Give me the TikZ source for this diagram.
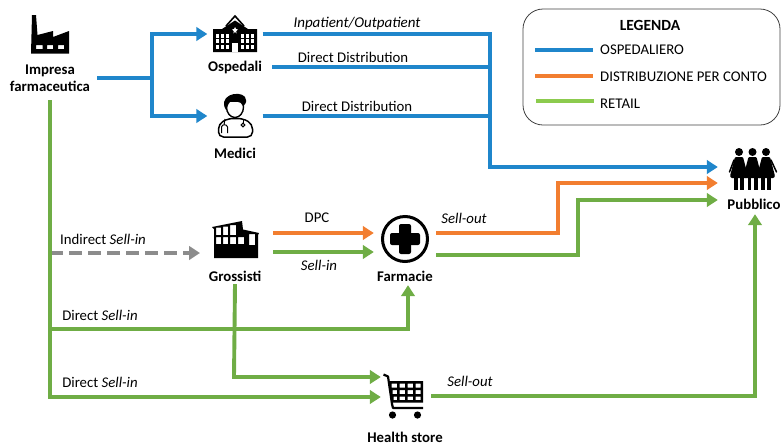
\documentclass[tikz,border=0pt]{standalone}
\usepackage{fontspec}
\setmainfont{Carlito}
\usetikzlibrary{arrows.meta}
\definecolor{cblue}{HTML}{1F86CB}
\definecolor{corange}{HTML}{F27E30}
\definecolor{cgreen}{HTML}{6FAD45}
\definecolor{cgray}{HTML}{8C8C8C}
\definecolor{lgreen}{HTML}{8CCB4E}
\tikzset{
 box/.style={inner sep=0pt,minimum width=#1},
 lab/.style={font=\fontsize{14.8}{17}\selectfont\bfseries,inner sep=0pt,align=center},
 txt/.style={font=\fontsize{14.8}{17}\selectfont,inner sep=0pt},
 flow/.style={line width=3.9pt,line join=miter},
 tip/.style={-{Triangle[length=11pt,width=13.5pt]}},
 blue/.style={flow,cblue},
 orange/.style={flow,corange},
 green/.style={flow,cgreen},
 leg/.style={line width=3.9pt},
}
\begin{document}
\begin{tikzpicture}[x=1pt,y=-1pt]
\useasboundingbox (0,0) rectangle (782,445);
% anchor nodes of the actors
\node[box=94,minimum height=44,lab] (impresa) at (50,78) {Impresa\\farmaceutica};
\node[box=55,minimum height=38] (ospedali) at (235,34) {};
\node[box=74,lab] (ospedaliL) at (235,67) {Ospedali};
\node[box=55,minimum height=44] (medici) at (235,116) {};
\node[lab] (mediciL) at (235,153) {Medici};
\node[box=76,minimum height=38] (grossisti) at (235,243) {};
\node[box=60,minimum height=16,lab] (grossistiL) at (235,276) {Grossisti};
\node[box=62,minimum height=50] (farmacie) at (405,243) {};
\node[box=60,minimum height=18,lab] (farmacieL) at (405,276) {Farmacie};
\node[box=50,minimum height=44] (cart) at (406,397) {};
\node[lab] (cartL) at (405,437) {Health store};
\node[box=60,minimum height=66] (pubblico) at (748,167) {};
\node[box=60,minimum height=20,lab] (pubblicoL) at (754,204) {Pubblico};
% junctions
\coordinate (jb) at (152,78);
\coordinate (jh) at (490,34);
\coordinate (jp) at (490,167);
\coordinate (jo1) at (558,233);
\coordinate (jo2) at (558,183);
\coordinate (jg1) at (578,255);
\coordinate (jg2) at (578,200);
\coordinate (jv) at (50,253);
\coordinate (jw) at (50,329);
\coordinate (jx) at (50,397);
\coordinate (jc) at (234,377);
\coordinate (jf) at (408,329);
\coordinate (je) at (755,396);
\node[box=1,minimum height=1] (gray) at (200,253) {};
% gray
\draw[line width=3.9pt,cgray,dash pattern=on 13pt off 6pt,-{Triangle[length=11pt,width=13.5pt]}] (jv) -- (gray.center);
% blue
\draw[blue] (impresa.east) -- (jb);
\draw[blue,tip] (jb) -- (jb |- ospedali.west) -- (ospedali.west);
\draw[blue,tip] (jb) -- (jb |- medici.west) -- (medici.west);
\draw[blue] (ospedaliL.east) -- (ospedaliL.east -| jh);
\draw[blue] (medici.east) -- (medici.east -| jh);
\draw[blue,tip] (ospedali.east) -- (jh) -- (jp) -- (jp -| pubblico.west);
% orange
\draw[orange,tip] ([yshift=10]grossisti.east) -- ([yshift=10]farmacie.west);
\draw[orange,tip] ([yshift=10]farmacie.east) -- (jo1) -- (jo2) -- (jo2 -| pubblico.west);
% green
\draw[green,tip] ([yshift=-9]grossisti.east) -- ([yshift=-9]farmacie.west);
\draw[green,tip] ([yshift=-12]farmacie.east) -- (jg1) -- (jg2) -- (jg2 -| pubblico.west);
\draw[green,tip] (impresa.south) -- (jx) -- (jx -| cart.west);
\draw[green,tip] (jw) -- (jf) -- (jf |- farmacieL.south);
\draw[green,tip] (grossistiL.south) -- (jc) -- (jc -| cart.west);
\draw[green,tip] (cart.east |- je) -- (je) -- (pubblicoL.south -| je);
% labels
\node[txt,font=\fontsize{15}{17}\selectfont\itshape] at (357,24) {Inpatient/Outpatient};
\node[txt] at (353,57) {Direct Distribution};
\node[txt] at (357,106) {Direct Distribution};
\node[txt] at (103,239) {Indirect \textit{Sell-in}};
\node[txt] at (317,218) {DPC};
\node[txt] at (319,265) {\textit{Sell-in}};
\node[txt] at (464,218) {\textit{Sell-out}};
\node[txt] at (100,315) {Direct \textit{Sell-in}};
\node[txt] at (100,382) {Direct \textit{Sell-in}};
\node[txt] at (470,381) {\textit{Sell-out}};
% legend
\node[draw=black!75,line width=0.8pt,rounded corners=20pt,minimum width=257,minimum height=116,inner sep=0pt] (legend) at (651.5,67) {};
\node[lab,font=\fontsize{15.5}{17}\selectfont\bfseries] (legT) at (650,25) {LEGENDA};
\node[txt,anchor=west] (l1) at (600,50) {OSPEDALIERO};
\node[txt,anchor=west] (l2) at (600,76.5) {DISTRIBUZIONE PER CONTO};
\node[txt,anchor=west] (l3) at (600,103.5) {RETAIL};
\draw[leg,cblue] (535,50) -- (593,50);
\draw[leg,corange] (535,76) -- (593,76);
\draw[leg,lgreen] (536,101) -- (594,101);
% factory icon
\fill[black,even odd rule] (32,15) -- (36,15) -- (37.5,35) -- (53,31) -- (53,37) -- (69,31) -- (69,53.5) -- (31,53.5) -- cycle
 (36,45) rectangle (42.5,49) (47,45) rectangle (53,49) (58,45) rectangle (64,49);
% hospital icon
\draw[line width=1.6pt] (226,26) -- (235,16) -- (244,26);
\fill (235,20.5) -- (248,29) -- (257,29) -- (257,52) -- (213,52) -- (213,29) -- (222,29) -- cycle;
\foreach \cx in {215.5,220.5,225.5,240.5,245.5,250.5}
 \foreach \cy in {33.5,39,44.5}
  \fill[white] (\cx,\cy) rectangle +(3.6,4);
\fill[white] (232,43) rectangle (238,52);
\fill[white] (235,27) -- (236,29) -- (238,29.5) -- (236.2,31) -- (236.6,33.4) -- (235,32) -- (233.4,33.4) -- (233.8,31) -- (232,29.5) -- (234,29) -- cycle;
% doctor icon
\draw[line width=1.5pt,fill=white,rounded corners=5pt] (218.5,137) -- (218.5,124) -- (228,118.5) -- (243,118.5) -- (252.5,124) -- (252.5,137) -- cycle;
\draw[line width=1.4pt,fill=white] (235,107) ellipse (8.5 and 10.5);
\fill (224.5,107) .. controls (220,92) and (246,90) .. (246,100) .. controls (247,102) and (244,106) .. (243,106) .. controls (241,100) and (234,102) .. (230,102) .. controls (228,104) and (227,108) .. (226,110) -- cycle;
\draw[line width=1pt] (225,119) -- (224,125) (221.5,133) -- (221.5,127) .. controls (222,124) and (227,124) .. (227.5,127) -- (227.5,133);
\draw[line width=1pt] (243,119) -- (243,123);
\draw[line width=1pt] (243,125) circle (1.8);
% warehouse icon
\fill[even odd rule] (212,227) -- (242,221) -- (243,229.5) -- (259,233) -- (258,235) -- (258,258) -- (214,258) -- (214,229) -- cycle
 (216,227.5) rectangle (221,235) (223,226.5) rectangle (228,235) (230,225) rectangle (236,235)
 (216,237) rectangle (221,244) (223,237) rectangle (228,244) (230,237) rectangle (236,244) (238,237) rectangle (244,244)
 (249,234) rectangle (255,245);
% pharmacy icon
\draw[line width=3pt] (405,239) circle (22.5);
\fill[rounded corners=2pt] (399,224) rectangle (411,254);
\fill[rounded corners=2pt] (390,233) rectangle (420,245);
% public icons
\foreach \px in {739,752.5,766}{
 \fill (\px,152) circle (4);
 \fill[rounded corners=1pt] (\px-4,157) -- (\px+4,157) -- (\px+9,176) -- (\px+8,178) -- (\px-8,178) -- (\px-9,176) -- cycle;
 \fill (\px-5,178) rectangle (\px-1.2,190);
 \fill (\px+1.2,178) rectangle (\px+5,190);
}
\draw[line width=1.5pt,line cap=round] (734,160) -- (729.5,172) (771,160) -- (776.5,172);
% cart icon
\draw[line width=2.2pt,line join=round] (383.5,374.5) -- (388,376.5) -- (392,404) -- (393,408) -- (423,408);
\fill[even odd rule] (389,381) -- (423,381) -- (423,402.5) -- (391.5,402.5) -- cycle
 (391.5,383.5) rectangle (397,387.5) (399.5,383.5) rectangle (405,387.5) (407.5,383.5) rectangle (413,387.5) (415.5,383.5) rectangle (420.5,387.5)
 (392.5,390) rectangle (397,394) (399.5,390) rectangle (405,394) (407.5,390) rectangle (413,394) (415.5,390) rectangle (420.5,394)
 (393.5,396.5) rectangle (397,400) (399.5,396.5) rectangle (405,400) (407.5,396.5) rectangle (413,400) (415.5,396.5) rectangle (420.5,400);
\fill (392.5,415) circle (3.6);
\fill (417.5,415) circle (3.6);
\end{tikzpicture}
\end{document}
